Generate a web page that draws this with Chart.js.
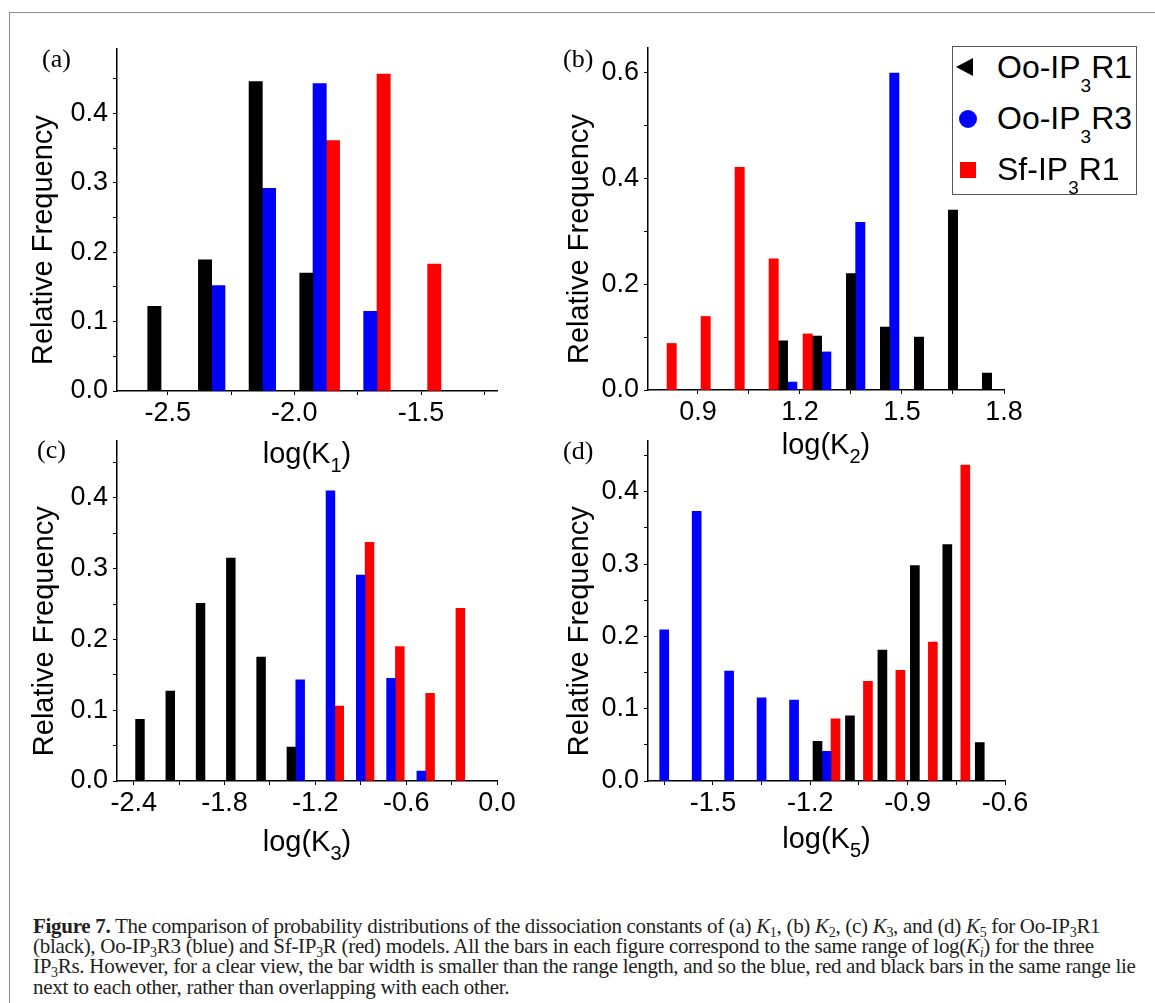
<!DOCTYPE html>
<html>
<head>
<meta charset="utf-8">
<script src="https://cdn.jsdelivr.net/npm/chart.js@4.4.0/dist/chart.umd.min.js"></script>
<style>
  html, body { margin: 0; padding: 0; background: #fff; }
  body { width: 1155px; height: 1003px; position: relative; overflow: hidden; font-family: "Liberation Sans", Arial, sans-serif; }
  .frame { position: absolute; left: 9px; top: 12px; width: 1200px; height: 1100px; border-top: 1px solid #8c8c8c; border-left: 1px solid #8c8c8c; }
  .panel { position: absolute; }
  .tag { position: absolute; font-family: "Liberation Serif", "Times New Roman", serif; font-size: 26px; line-height: 26px; color: #000; }
  #legendB { position: absolute; left: 952px; top: 46px; width: 185px; height: 149px; box-sizing: border-box; border: 1px solid #555; background: #fff; }
  #legendB .item { position: relative; height: 51px; }
  #legendB .txt { position: absolute; left: 44px; top: 4px; font-size: 32px; line-height: 32px; white-space: nowrap; color: #000; }
  #legendB .txt sub { font-size: 19px; vertical-align: baseline; position: relative; top: 14px; }
  #legendB .mk { position: absolute; }
  #legendB .mk.triangle { left: 3px; top: 11px; width: 0; height: 0; border-top: 9.5px solid transparent; border-bottom: 9.5px solid transparent; border-right: 17px solid currentColor; }
  #legendB .mk.circle { left: 6px; top: 12px; width: 18px; height: 18px; border-radius: 50%; background: currentColor; }
  #legendB .mk.rect { left: 7px; top: 13px; width: 16px; height: 16px; background: currentColor; }
  .caption { position: absolute; left: 33px; top: 916px; width: 1120px; font-family: "Liberation Serif", "Times New Roman", serif; font-size: 21px; line-height: 20.2px; letter-spacing: -0.3px; color: #231f20; white-space: nowrap; }
  .caption sub { font-size: 14px; line-height: 0; vertical-align: baseline; position: relative; top: 4px; }
</style>
</head>
<body>
<div class="frame"></div>

<canvas class="panel" id="chartA" width="577" height="480" style="left:0px;top:0px"></canvas>
<canvas class="panel" id="chartB" width="577" height="480" style="left:560px;top:0px"></canvas>
<canvas class="panel" id="chartC" width="577" height="480" style="left:0px;top:420px"></canvas>
<canvas class="panel" id="chartD" width="577" height="480" style="left:560px;top:420px"></canvas>

<div class="tag" style="left:42px;top:46px">(a)</div>
<div class="tag" style="left:563px;top:46px">(b)</div>
<div class="tag" style="left:37px;top:437px">(c)</div>
<div class="tag" style="left:563px;top:438px">(d)</div>

<div id="legendB"></div>

<div class="caption"><b>Figure 7.</b> The comparison of probability distributions of the dissociation constants of (a) <i>K</i><sub>1</sub>, (b) <i>K</i><sub>2</sub>, (c) <i>K</i><sub>3</sub>, and (d) <i>K</i><sub>5</sub> for Oo-IP<sub>3</sub>R1<br>(black), Oo-IP<sub>3</sub>R3 (blue) and Sf-IP<sub>3</sub>R (red) models. All the bars in each figure correspond to the same range of log(<i>K<sub>i</sub></i>) for the three<br>IP<sub>3</sub>Rs. However, for a clear view, the bar width is smaller than the range length, and so the blue, red and black bars in the same range lie<br>next to each other, rather than overlapping with each other.</div>

<script>
// series names
const seriesLabels = ["Oo-IP3R1", "Oo-IP3R3", "Sf-IP3R1"];

// (a) log(K1): bin centres and relative frequencies
const binsK1 = [-2.5, -2.3, -2.1, -1.9, -1.7, -1.5];
const oo1K1 = [0.122, 0.189, 0.446, 0.170, null, null];
const oo3K1 = [null, 0.152, 0.292, 0.443, 0.115, null];
const sf1K1 = [null, null, null, 0.361, 0.457, 0.183];

// (b) log(K2)
const binsK2 = [0.85, 0.95, 1.05, 1.15, 1.25, 1.35, 1.45, 1.55, 1.65, 1.75];
const oo1K2 = [null, null, null, 0.093, 0.102, 0.220, 0.119, 0.100, 0.340, 0.032];
const oo3K2 = [null, null, null, 0.015, 0.072, 0.317, 0.599, null, null, null];
const sf1K2 = [0.088, 0.139, 0.421, 0.248, 0.106, null, null, null, null, null];

// (c) log(K3)
const binsK3 = [-2.3, -2.1, -1.9, -1.7, -1.5, -1.3, -1.1, -0.9, -0.7, -0.5, -0.3];
const oo1K3 = [0.087, 0.127, 0.251, 0.315, 0.175, 0.048, null, null, null, null, null];
const oo3K3 = [null, null, null, null, null, 0.143, 0.410, 0.291, 0.145, 0.014, null];
const sf1K3 = [null, null, null, null, null, null, 0.106, 0.337, 0.190, 0.124, 0.244];

// (d) log(K5)
const binsK5 = [-1.65, -1.55, -1.45, -1.35, -1.25, -1.15, -1.05, -0.95, -0.85, -0.75, -0.65];
const oo1K5 = [null, null, null, null, null, 0.055, 0.090, 0.181, 0.298, 0.327, 0.053];
const oo3K5 = [0.209, 0.373, 0.152, 0.115, 0.112, 0.041, null, null, null, null, null];
const sf1K5 = [null, null, null, null, null, 0.086, 0.138, 0.153, 0.192, 0.437, null];

// labelled ticks (minor ticks sit halfway between)
const xTicksK1 = [-2.5, -2.0, -1.5];
const xTicksK2 = [0.9, 1.2, 1.5, 1.8];
const xTicksK3 = [-2.4, -1.8, -1.2, -0.6, 0.0];
const xTicksK5 = [-1.5, -1.2, -0.9, -0.6];
const yTicksA = [0, 0.1, 0.2, 0.3, 0.4];
const yTicksB = [0, 0.2, 0.4, 0.6];

const seriesColors = ["#000000", "#0000ff", "#ff0000"];
const seriesMarkers = ["triangle", "circle", "rect"];

Chart.defaults.font.family = '"Liberation Sans", Arial, sans-serif';
Chart.defaults.color = "#000";

function makeTicks(major, min, max) {
  let half = (major[1] - major[0]) / 2;
  let out = [];
  for (let k = -1; ; k++) {
    let v = Math.round((major[0] + k * half) * 1e6) / 1e6;
    if (v > max + 1e-9) break;
    if (v >= min - 1e-9) out.push(v);
  }
  return out;
}

function isMajor(major, v) {
  return major.some(m => Math.abs(m - v) < 1e-6);
}

// x axis title with a subscript, e.g. "log(K_1)"
const subTitle = {
  id: "subTitle",
  afterDraw(chart, args, opts) {
    if (!opts.text) return;
    const {ctx, chartArea} = chart;
    const m = opts.text.match(/^(.*)_(\w)(.*)$/);
    const parts = [[m[1], false], [m[2], true], [m[3], false]];
    const big = '29px "Liberation Sans", Arial, sans-serif';
    const small = '20px "Liberation Sans", Arial, sans-serif';
    ctx.save();
    let total = 0;
    const widths = parts.map(([t, sub]) => {
      ctx.font = sub ? small : big;
      let w = ctx.measureText(t).width;
      total += w;
      return w;
    });
    let x = (chartArea.left + chartArea.right) / 2 - total / 2;
    let y = chartArea.bottom + opts.offset;
    ctx.fillStyle = "#000";
    ctx.textAlign = "left";
    ctx.textBaseline = "alphabetic";
    parts.forEach(([t, sub], i) => {
      ctx.font = sub ? small : big;
      ctx.fillText(t, x, sub ? y + 9 : y);
      x += widths[i];
    });
    ctx.restore();
  }
};

// legend as html so the "3" can be a subscript
const htmlLegend = {
  id: "htmlLegend",
  afterUpdate(chart, args, opts) {
    if (!opts.containerID) return;
    const box = document.getElementById(opts.containerID);
    box.innerHTML = "";
    chart.data.datasets.forEach(ds => {
      let row = document.createElement("div");
      row.className = "item";
      let mk = document.createElement("span");
      mk.className = "mk " + ds.pointStyle;
      mk.style.color = ds.backgroundColor;
      let tx = document.createElement("span");
      tx.className = "txt";
      tx.innerHTML = ds.label.replace("IP3", "IP<sub>3</sub>");
      row.appendChild(mk);
      row.appendChild(tx);
      box.appendChild(row);
    });
  }
};

function makePanel(p) {
  const series = [p.oo1, p.oo3, p.sf1];
  const datasets = series.map((vals, i) => ({
    label: seriesLabels[i],
    data: p.bins.map((b, j) => ({x: b, y: vals[j]})),
    backgroundColor: seriesColors[i],
    borderWidth: 0,
    barThickness: p.bar,
    pointStyle: seriesMarkers[i],
    order: p.order[i]
  }));
  const xTickVals = makeTicks(p.xMajor, p.xMin, p.xMax);
  const yTickVals = makeTicks(p.yMajor, 0, p.yMax);

  return new Chart(document.getElementById(p.id), {
    type: "bar",
    data: {datasets: datasets},
    plugins: [subTitle, htmlLegend],
    options: {
      responsive: false,
      animation: false,
      events: [],
      layout: {padding: {left: 0, top: p.top, right: p.right, bottom: 0}},
      plugins: {
        legend: {display: false},
        tooltip: {enabled: false},
        subTitle: {text: p.xTitle, offset: p.xTitleOffset},
        htmlLegend: {containerID: p.legend}
      },
      scales: {
        x: {
          type: "linear",
          min: p.xMin,
          max: p.xMax,
          offset: false,
          afterBuildTicks: s => { s.ticks = xTickVals.map(v => ({value: v})); },
          afterFit: s => { s.height = p.xHeight; },
          grid: {drawOnChartArea: false, drawTicks: true, tickLength: 4, color: "#000", offset: false},
          border: {display: true, color: "#000", width: 1.5},
          ticks: {
            autoSkip: false,
            maxRotation: 0,
            padding: 2,
            font: {size: 27},
            callback: v => isMajor(p.xMajor, v) ? v.toFixed(1) : ""
          }
        },
        y: {
          min: 0,
          max: p.yMax,
          afterBuildTicks: s => { s.ticks = yTickVals.map(v => ({value: v})); },
          afterFit: s => { s.width = p.yWidth; },
          grid: {drawOnChartArea: false, drawTicks: true, tickLength: 4, color: "#000"},
          border: {display: true, color: "#000", width: 1.5},
          ticks: {
            autoSkip: false,
            padding: 5,
            font: {size: 27},
            callback: v => isMajor(p.yMajor, v) ? v.toFixed(1) : ""
          },
          title: {
            display: true,
            text: "Relative Frequency     ",
            font: {size: 29},
            padding: {top: p.yTitlePad, bottom: 0}
          }
        }
      }
    }
  });
}

let chartA = makePanel({
  id: "chartA", bins: binsK1, oo1: oo1K1, oo3: oo3K1, sf1: sf1K1, order: [0, 1, 2],
  xMin: -2.7, xMax: -1.2, xMajor: xTicksK1, yMax: 0.493, yMajor: yTicksA,
  bar: 13.3, top: 49, right: 80, yWidth: 117, xHeight: 89, yTitlePad: 27,
  xTitle: "log(K_1)", xTitleOffset: 72
});

let chartB = makePanel({
  id: "chartB", bins: binsK2, oo1: oo1K2, oo3: oo3K2, sf1: sf1K2, order: [1, 2, 0],
  xMin: 0.753, xMax: 1.8, xMajor: xTicksK2, yMax: 0.6465, yMajor: yTicksB,
  bar: 9.3, top: 48, right: 133, yWidth: 88, xHeight: 90, yTitlePad: 3,
  xTitle: "log(K_2)", xTitleOffset: 64, legend: "legendB"
});

let chartC = makePanel({
  id: "chartC", bins: binsK3, oo1: oo1K3, oo3: oo3K3, sf1: sf1K3, order: [0, 1, 2],
  xMin: -2.51, xMax: 0.0, xMajor: xTicksK3, yMax: 0.48, yMajor: yTicksA,
  bar: 8.8, top: 20, right: 80, yWidth: 117, xHeight: 119, yTitlePad: 28,
  xTitle: "log(K_3)", xTitleOffset: 70
});

let chartD = makePanel({
  id: "chartD", bins: binsK5, oo1: oo1K5, oo3: oo3K5, sf1: sf1K5, order: [0, 1, 2],
  xMin: -1.7, xMax: -0.6, xMajor: xTicksK5, yMax: 0.47, yMajor: yTicksA,
  bar: 9, top: 20, right: 132, yWidth: 88, xHeight: 119, yTitlePad: 3,
  xTitle: "log(K_5)", xTitleOffset: 67
});
</script>
</body>
</html>
